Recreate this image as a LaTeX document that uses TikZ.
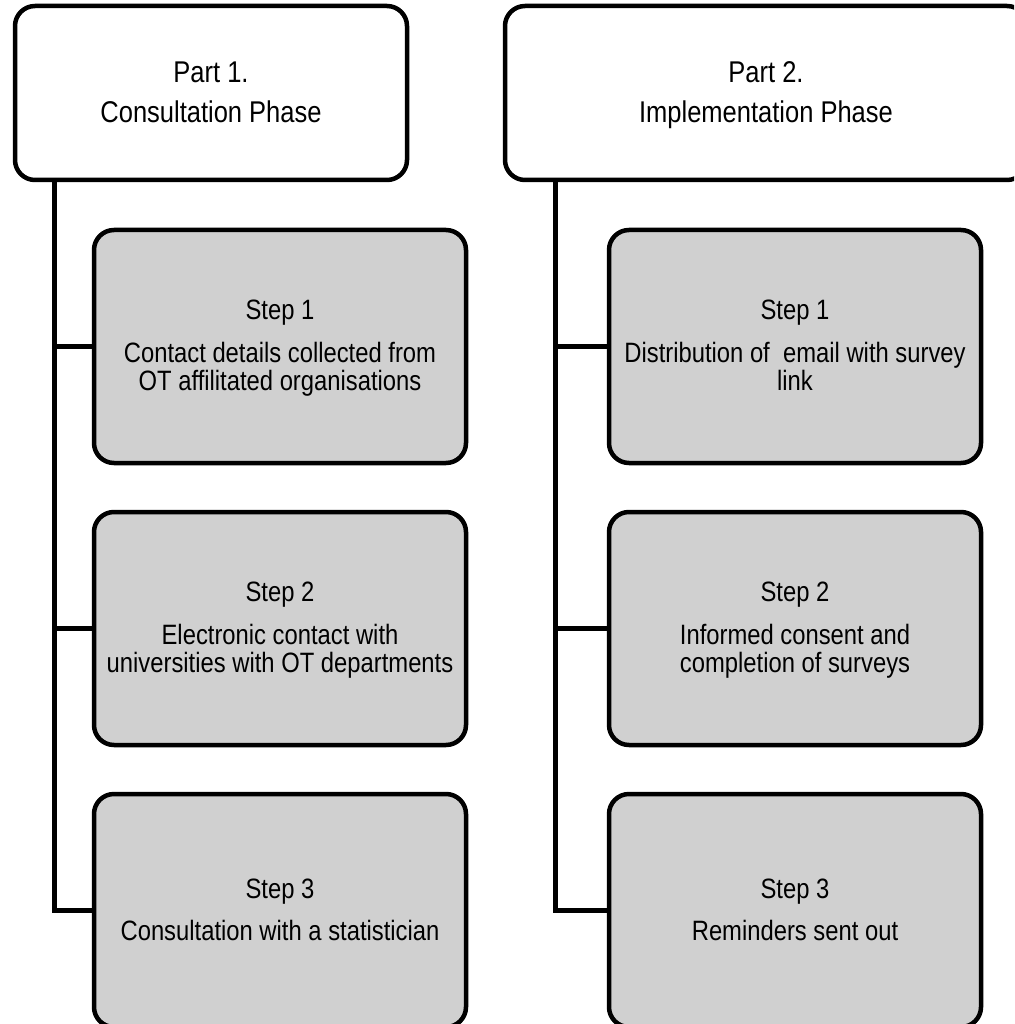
\documentclass[tikz,border=0pt]{standalone}
\usepackage{fontspec}
\setmainfont{Liberation Sans}[FakeStretch=0.85]
\definecolor{boxgray}{RGB}{208,208,208}
\newcommand{\hdtop}{\rule{0pt}{32pt}}
\newcommand{\sttop}{\rule{0pt}{26.5pt}}
\begin{document}
\begin{tikzpicture}[x=1pt,y=-1pt,
  every node/.style={inner sep=0pt,outer sep=0pt},
  header/.style={draw=black,line width=4.5pt,fill=white,rounded corners=20pt,align=center,
    font=\fontsize{30}{40}\selectfont},
  stepbox/.style={draw=black,line width=4.5pt,fill=boxgray,rounded corners=20pt,align=center,
    minimum width=372pt,minimum height=233pt,font=\fontsize{28}{28.5}\selectfont},
  conn/.style={line width=4.5pt,black}]
\useasboundingbox (0,0) rectangle (1014,1024);
\clip (0,0) rectangle (1014,1024);
% headers
\node[header,minimum width=392pt,minimum height=174pt] (lh) at (211,93) {\hdtop Part 1.\\Consultation Phase\strut};
\node[header,minimum width=522pt,minimum height=174pt] (rh) at (766,93) {\hdtop Part 2.\\Implementation Phase\strut};
% left steps
\node[stepbox] (l1) at (280,346.5) {\sttop Step 1\\[14pt]Contact details collected from\\OT affilitated organisations\strut};
\node[stepbox] (l2) at (280,628.5) {\sttop Step 2\\[14pt]Electronic contact with\\universities with OT departments\strut};
\node[stepbox] (l3) at (280,910.5) {\sttop Step 3\\[14pt]Consultation with a statistician\strut};
% right steps
\node[stepbox] (r1) at (795,346.5) {\sttop Step 1\\[14pt]Distribution of~ email with survey\\link\strut};
\node[stepbox] (r2) at (795,628.5) {\sttop Step 2\\[14pt]Informed consent and\\completion of surveys\strut};
\node[stepbox] (r3) at (795,910.5) {\sttop Step 3\\[14pt]Reminders sent out\strut};
% trunk coordinates
\coordinate (lt) at (54.5,180);
\coordinate (rt) at (555.5,180);
% connectors
\draw[conn] (lt) |- (l3.west);
\draw[conn] (l1.west) -- (l1.west -| lt);
\draw[conn] (l2.west) -- (l2.west -| lt);
\draw[conn] (rt) |- (r3.west);
\draw[conn] (r1.west) -- (r1.west -| rt);
\draw[conn] (r2.west) -- (r2.west -| rt);
\end{tikzpicture}
\end{document}
